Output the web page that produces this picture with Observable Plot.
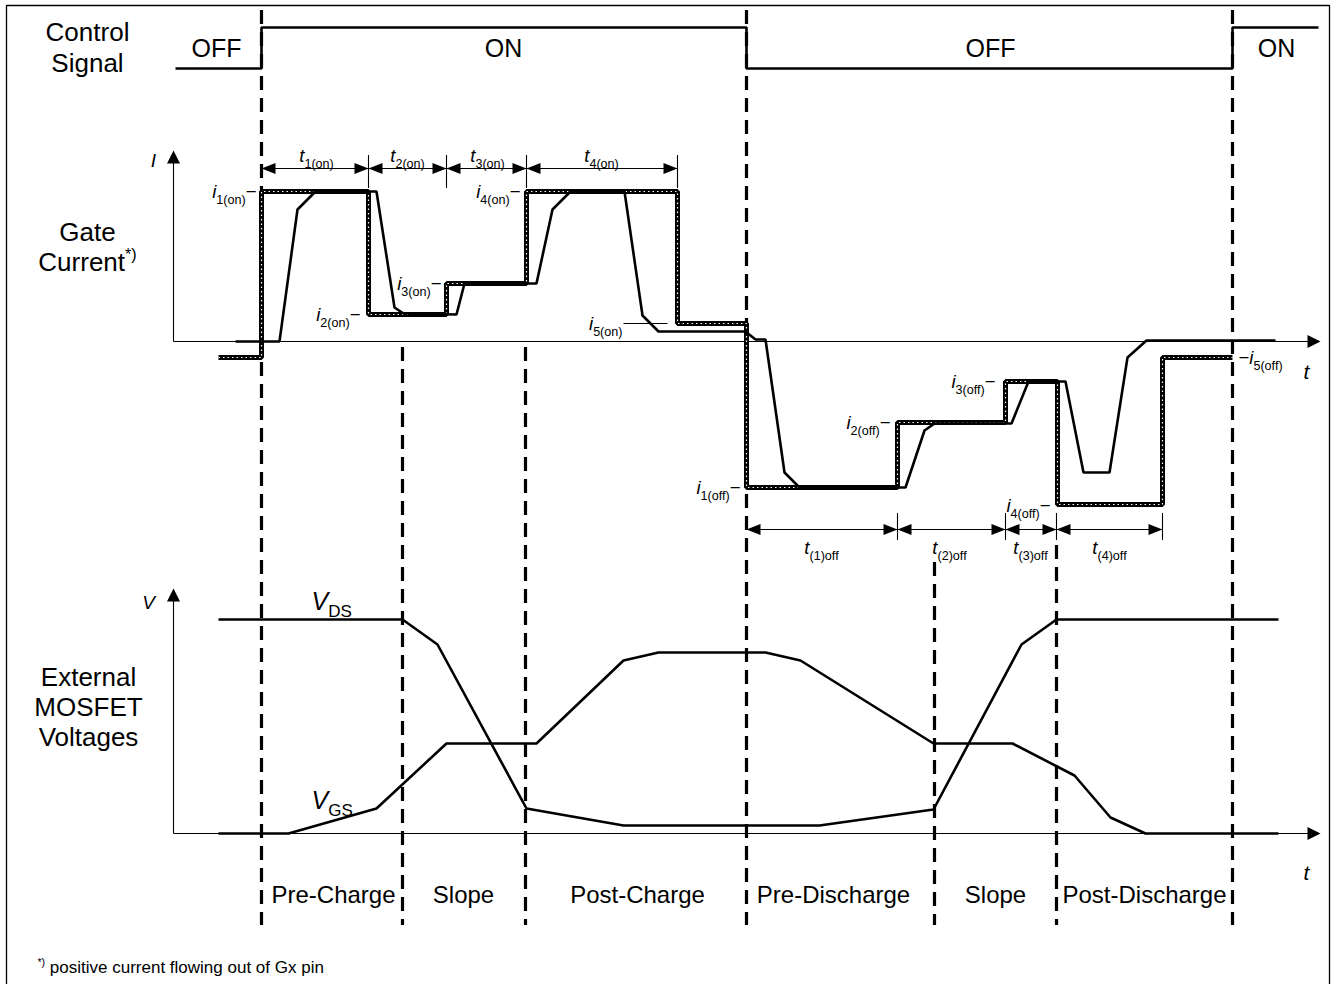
<!DOCTYPE html>
<html>
<head>
<meta charset="utf-8">
<script src="https://cdn.jsdelivr.net/npm/d3@7"></script>
<script src="https://cdn.jsdelivr.net/npm/@observablehq/plot@0.6"></script>
<style>
  html, body { margin: 0; padding: 0; background: #fff; }
  svg { display: block; }
</style>
</head>
<body>
<div id="chart"></div>
<script>
// ---- Diagram data (time on x, signal level on y, in diagram units) ----
const controlSignal = [[175,68],[261,68],[261,27],[746,27],[746,68],[1232,68],[1232,27],[1318,27]];

const gateActual = [[235,341],[279,341],[297,209],[315,191],[376,191],[394,307],[403,313],[456,314],[464,283],
  [536,283],[552,209],[570,191],[624,191],[642,315],[658,331],[745,331],[755,339],[765,339],[784,472],[799,487],
  [905,487],[924,430],[934,423],[1011,423],[1028,381],[1065,381],[1083,472],[1109,472],[1127,357],[1146,340],[1275,340]];

const gateTarget = [[218,357],[261,357],[261,191],[368,191],[368,314],[446,314],[446,283],[526,283],[526,191],
  [677,191],[677,323],[746,323],[746,487],[897,487],[897,422],[1005,422],[1005,381],[1057,381],[1057,504],
  [1162,504],[1162,357],[1232,357]];

const vds = [[218,619],[402,619],[437,644],[526,808],[623,825],[819,825],[933,809],[1021,644],[1056,619],[1278,619]];
const vgs = [[218,833],[288,833],[376,808],[446,743],[536,743],[623,660],[658,652],[765,652],[800,660],[933,743],
  [1012,743],[1074,775],[1110,817],[1145,833],[1278,833]];

const phaseBounds = [
  {t:261, y1:10, y2:925}, {t:746, y1:10, y2:925}, {t:1232, y1:10, y2:925},
  {t:402, y1:347, y2:925}, {t:525, y1:347, y2:925},
  {t:934, y1:562, y2:925}, {t:1056, y1:545, y2:925}
];

const onIntervals  = [[261,368],[368,446],[446,526],[526,677]];
const onIntervalLevel = 168;
const onTicks = [368,446,526,677];
const offIntervals = [[746,897],[897,1005],[1005,1056],[1056,1162]];
const offIntervalLevel = 529;
const offTicks = [897,1005,1056,1162];

const axesV = [[[173,341],[173,160]], [[173,833],[173,598]]];
const axesH = [[[173,341],[1308,341]], [[173,833],[1308,833]]];
const axisTipsUp = [[173,150],[173,588]];
const axisTipsRight = [[1320,341],[1320,833]];

const border = [[6,995],[6,5],[1329,5],[1329,995]];
const i5onMarker = [[623,323],[667,323]];

const sideLabels = [
  {x:87, y:32, text:"Control"}, {x:87, y:63, text:"Signal"},
  {x:87, y:232, text:"Gate"}, {x:87, y:262, text:"Current{^:*)}"},
  {x:88, y:677, text:"External"}, {x:88, y:707, text:"MOSFET"}, {x:88, y:737, text:"Voltages"}
];
const stateLabels = [
  {x:216, y:48, text:"OFF"}, {x:503, y:48, text:"ON"}, {x:990, y:48, text:"OFF"}, {x:1276, y:48, text:"ON"}
];
const phaseLabels = [
  {x:333, y:895, text:"Pre-Charge"}, {x:463, y:895, text:"Slope"}, {x:637, y:895, text:"Post-Charge"},
  {x:833, y:895, text:"Pre-Discharge"}, {x:995, y:895, text:"Slope"}, {x:1144, y:895, text:"Post-Discharge"}
];
const levelLabelsEnd = [
  {x:256, y:192, text:"{i:i}{_:1(on)}−"}, {x:360, y:315, text:"{i:i}{_:2(on)}−"},
  {x:441, y:284, text:"{i:i}{_:3(on)}−"}, {x:520, y:192, text:"{i:i}{_:4(on)}−"},
  {x:622, y:324, text:"{i:i}{_:5(on)}"},
  {x:740, y:488, text:"{i:i}{_:1(off)}−"}, {x:890, y:423, text:"{i:i}{_:2(off)}−"},
  {x:995, y:382, text:"{i:i}{_:3(off)}−"}, {x:1050, y:506, text:"{i:i}{_:4(off)}−"}
];
const levelLabelsStart = [ {x:1238, y:358, text:"−{i:i}{_:5(off)}"} ];
const intervalLabels = [
  {x:316, y:156, text:"{i:t}{_:1(on)}"}, {x:407, y:156, text:"{i:t}{_:2(on)}"},
  {x:487, y:156, text:"{i:t}{_:3(on)}"}, {x:601, y:156, text:"{i:t}{_:4(on)}"},
  {x:821, y:548, text:"{i:t}{_:(1)off}"}, {x:949, y:548, text:"{i:t}{_:(2)off}"},
  {x:1030, y:548, text:"{i:t}{_:(3)off}"}, {x:1109, y:548, text:"{i:t}{_:(4)off}"}
];
const voltageLabels = [ {x:311, y:601, text:"{i:V}{_:DS}"}, {x:311, y:800, text:"{i:V}{_:GS}"} ];
const axisLetters = [
  {x:153, y:160, text:"I", size:19}, {x:148, y:602, text:"V", size:19},
  {x:1306, y:372, text:"t", size:21}, {x:1306, y:873, text:"t", size:21}
];
const footnote = [ {x:37, y:967, text:"{^:*)} positive current flowing out of Gx pin"} ];

// ---- symbols ----
const headSymbol = (L, W) => ({ draw(ctx) { ctx.moveTo(0,0); ctx.lineTo(-L,-W); ctx.lineTo(-L,W); ctx.closePath(); } });
const dimHead = headSymbol(14, 5.5);
const axisHead = headSymbol(13, 6.5);

const onLeft  = onIntervals.map(d => [d[0], onIntervalLevel]);
const onRight = onIntervals.map(d => [d[1], onIntervalLevel]);
const offLeft  = offIntervals.map(d => [d[0], offIntervalLevel]);
const offRight = offIntervals.map(d => [d[1], offIntervalLevel]);

const font = "'Liberation Sans', Arial, Helvetica, sans-serif";
const poly = (data, opts) => Plot.line(data, {x: d => d[0], y: d => d[1], strokeLinejoin: "miter", strokeLinecap: "butt", ...opts});

const chart = Plot.plot({
  width: 1332, height: 984, margin: 0,
  x: {domain: [0, 1332], range: [0, 1332], axis: null},
  y: {domain: [0, 984], range: [0, 984], axis: null},
  style: {background: "white", fontFamily: font, color: "black"},
  marks: [
    poly(border, {stroke: "black", strokeWidth: 1.3}),
    // axes
    ...axesV.map(a => poly(a, {stroke: "black", strokeWidth: 1.1})),
    ...axesH.map(a => poly(a, {stroke: "black", strokeWidth: 1.1})),
    Plot.dot(axisTipsUp, {x: d => d[0], y: d => d[1], symbol: axisHead, rotate: -90, fill: "black", stroke: null}),
    Plot.dot(axisTipsRight, {x: d => d[0], y: d => d[1], symbol: axisHead, rotate: 0, fill: "black", stroke: null}),
    // phase boundaries
    Plot.ruleX(phaseBounds, {x: "t", y1: "y1", y2: "y2", stroke: "black", strokeWidth: 3.2, strokeDasharray: "14,8"}),
    // control signal
    poly(controlSignal, {stroke: "black", strokeWidth: 2.6}),
    // gate current target (thick dotted) and actual
    poly(gateTarget, {stroke: "black", strokeWidth: 5}),
    poly(gateTarget, {stroke: "white", strokeWidth: 1.2, strokeDasharray: "1.5,3"}),
    poly(gateActual, {stroke: "black", strokeWidth: 2.6}),
    poly(i5onMarker, {stroke: "black", strokeWidth: 1.1}),
    // interval dimension arrows
    Plot.ruleY(onIntervals, {x1: d => d[0], x2: d => d[1], y: onIntervalLevel, stroke: "black", strokeWidth: 1.1}),
    Plot.ruleY(offIntervals, {x1: d => d[0], x2: d => d[1], y: offIntervalLevel, stroke: "black", strokeWidth: 1.1}),
    Plot.ruleX(onTicks, {x: d => d, y1: 155, y2: 188, stroke: "black", strokeWidth: 1.1}),
    Plot.ruleX(offTicks, {x: d => d, y1: 513, y2: 540, stroke: "black", strokeWidth: 1.1}),
    Plot.dot([...onLeft, ...offLeft], {x: d => d[0], y: d => d[1], symbol: dimHead, rotate: 180, fill: "black", stroke: null}),
    Plot.dot([...onRight, ...offRight], {x: d => d[0], y: d => d[1], symbol: dimHead, rotate: 0, fill: "black", stroke: null}),
    // voltages
    poly(vds, {stroke: "black", strokeWidth: 2.6}),
    poly(vgs, {stroke: "black", strokeWidth: 2.6}),
    // texts
    Plot.text(sideLabels, {x: "x", y: "y", text: "text", fontSize: 26, textAnchor: "middle", fill: "black"}),
    Plot.text(stateLabels, {x: "x", y: "y", text: "text", fontSize: 25, textAnchor: "middle", fill: "black"}),
    Plot.text(phaseLabels, {x: "x", y: "y", text: "text", fontSize: 24, textAnchor: "middle", fill: "black"}),
    Plot.text(levelLabelsEnd, {x: "x", y: "y", text: "text", fontSize: 18.5, textAnchor: "end", fill: "black"}),
    Plot.text(levelLabelsStart, {x: "x", y: "y", text: "text", fontSize: 18.5, textAnchor: "start", fill: "black"}),
    Plot.text(intervalLabels, {x: "x", y: "y", text: "text", fontSize: 18.5, textAnchor: "middle", fill: "black"}),
    Plot.text(voltageLabels, {x: "x", y: "y", text: "text", fontSize: 25, textAnchor: "start", fill: "black"}),
    Plot.text(axisLetters, {x: "x", y: "y", text: "text", fontSize: d => d.size, fontStyle: "italic", textAnchor: "middle", fill: "black"}),
    Plot.text(footnote, {x: "x", y: "y", text: "text", fontSize: 17, textAnchor: "start", fill: "black"})
  ]
});

document.getElementById("chart").appendChild(chart);

// rich text: {i:..} italic, {_:..} subscript, {^:..} superscript
const svgNS = "http://www.w3.org/2000/svg";
chart.querySelectorAll("text").forEach(el => {
  const s = el.textContent;
  if (!/\{[i_^]:/.test(s)) return;
  const fs = parseFloat(getComputedStyle(el).fontSize) || 16;
  el.textContent = "";
  let shift = 0;
  s.split(/(\{[i_^]:[^}]*\})/).forEach(tok => {
    if (!tok) return;
    const m = tok.match(/^\{([i_^]):([^}]*)\}$/);
    const ts = document.createElementNS(svgNS, "tspan");
    let target = 0;
    if (m) {
      ts.textContent = m[2];
      if (m[1] === "i") { ts.setAttribute("font-style", "italic"); }
      else if (m[1] === "_") { ts.setAttribute("font-size", (0.68 * fs) + "px"); target = 0.3 * fs; }
      else { ts.setAttribute("font-size", (0.62 * fs) + "px"); target = -0.42 * fs; }
    } else {
      ts.textContent = tok;
    }
    ts.setAttribute("dy", (target - shift) + "px");
    shift = target;
    el.appendChild(ts);
  });
});
</script>
</body>
</html>
